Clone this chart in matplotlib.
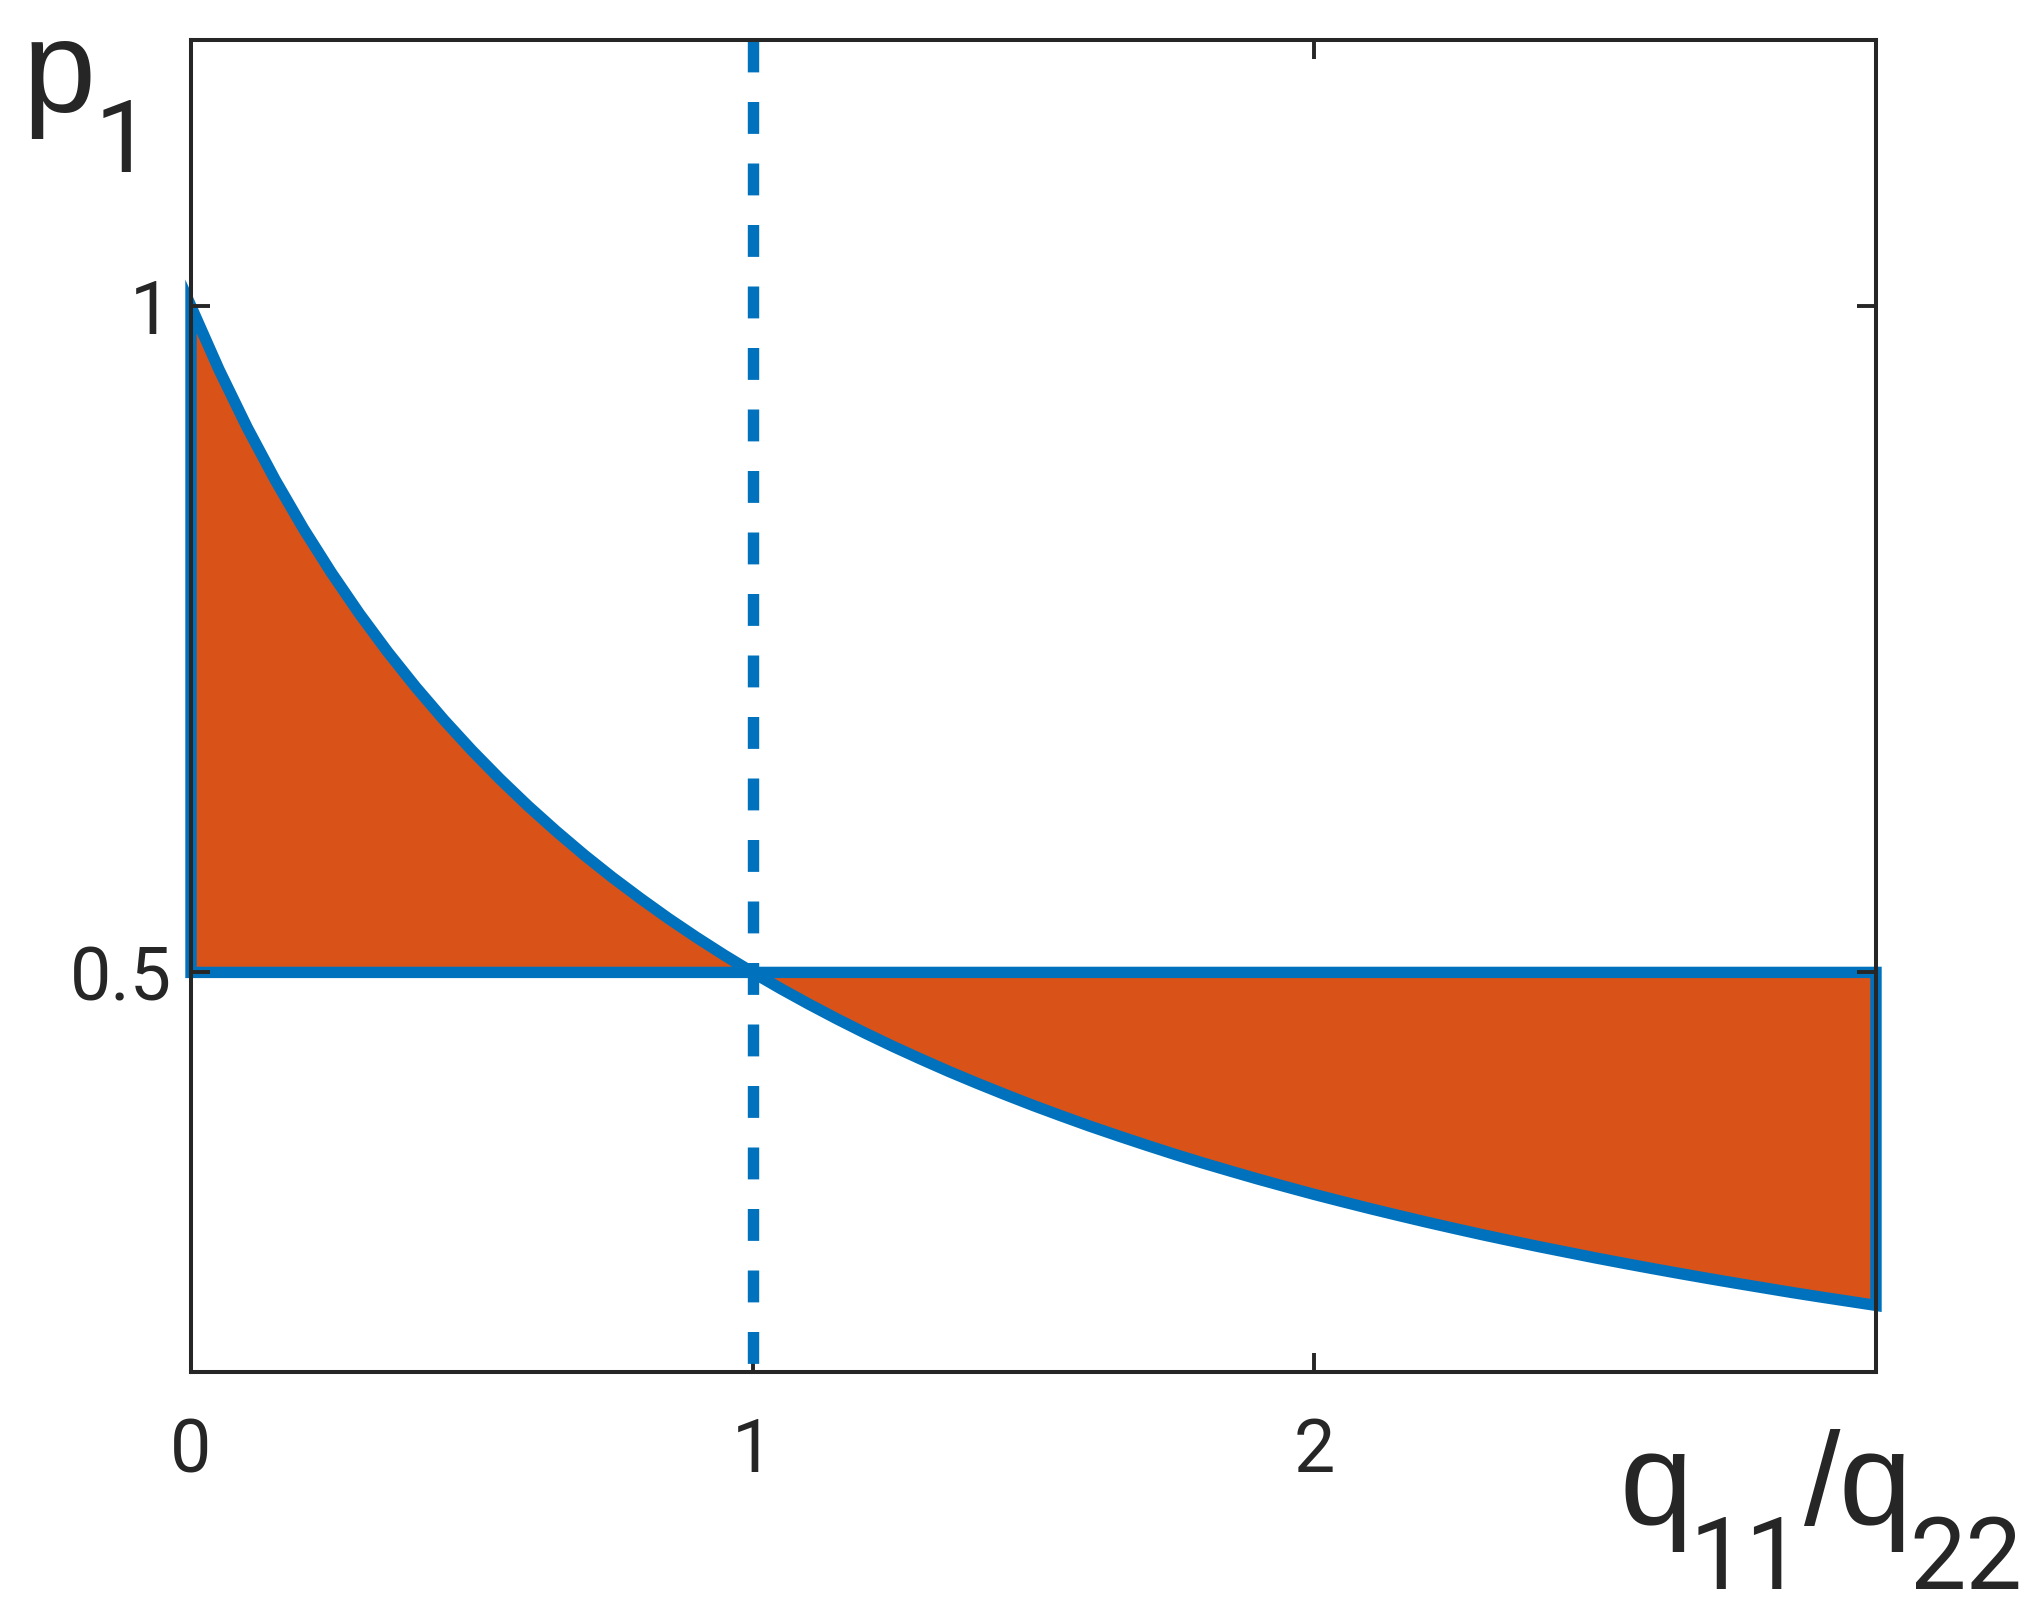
import numpy as np
import matplotlib
matplotlib.use("Agg")
from matplotlib import pyplot as plt

ratio = [0.00, 0.05, 0.10, 0.15, 0.20, 0.25, 0.30, 0.35, 0.40, 0.45,
         0.50, 0.55, 0.60, 0.65, 0.70, 0.75, 0.80, 0.85, 0.90, 0.95,
         1.00, 1.05, 1.10, 1.15, 1.20, 1.25, 1.30, 1.35, 1.40, 1.45,
         1.50, 1.55, 1.60, 1.65, 1.70, 1.75, 1.80, 1.85, 1.90, 1.95,
         2.00, 2.05, 2.10, 2.15, 2.20, 2.25, 2.30, 2.35, 2.40, 2.45,
         2.50, 2.55, 2.60, 2.65, 2.70, 2.75, 2.80, 2.85, 2.90, 2.95, 3.00]
p1 = [1.0000, 0.9524, 0.9091, 0.8696, 0.8333, 0.8000, 0.7692, 0.7407, 0.7143, 0.6897,
      0.6667, 0.6452, 0.6250, 0.6061, 0.5882, 0.5714, 0.5556, 0.5405, 0.5263, 0.5128,
      0.5000, 0.4878, 0.4762, 0.4651, 0.4545, 0.4444, 0.4348, 0.4255, 0.4167, 0.4082,
      0.4000, 0.3922, 0.3846, 0.3774, 0.3704, 0.3636, 0.3571, 0.3509, 0.3448, 0.3390,
      0.3333, 0.3279, 0.3226, 0.3175, 0.3125, 0.3077, 0.3030, 0.2985, 0.2941, 0.2899,
      0.2857, 0.2817, 0.2778, 0.2740, 0.2703, 0.2667, 0.2632, 0.2597, 0.2564, 0.2532, 0.2500]
level = 0.5
split = 1.0
x_ticks = [0, 1, 2]
x_ticklabels = ["0", "1", "2"]
y_ticks = [0.5, 1]
y_ticklabels = ["0.5", "1"]

BLUE = "#0072BD"
ORANGE = "#D95319"
INK = "#262626"
LETTERS = ["Liberation Sans", "DejaVu Sans"]

plt.rcParams["font.family"] = ["Roboto", "DejaVu Sans"]

W, H = 2044, 1619
fig = plt.figure(figsize=(W / 200, H / 200), dpi=200)
ax = fig.add_axes([191 / W, 1 - 1372 / H, (1876 - 191) / W, (1372 - 40) / H])

ratio = np.array(ratio)
p1 = np.array(p1)
lw = 4.1

# left patch (x <= split) and right patch (x >= split), edged in blue
left = ratio <= split
right = ratio >= split
xl = np.concatenate([[0.0], ratio[left], [0.0]])
yl = np.concatenate([[level], p1[left], [level]])
ax.fill(xl, yl, facecolor=ORANGE, edgecolor=BLUE, linewidth=lw,
        joinstyle="miter", clip_on=False, zorder=1)
xr = np.concatenate([ratio[right], [ratio[-1]], [split]])
yr = np.concatenate([p1[right], [level], [level]])
ax.fill(xr, yr, facecolor=ORANGE, edgecolor=BLUE, linewidth=lw,
        joinstyle="miter", clip_on=False, zorder=1)

# dashed divider at q11/q22 = 1
ax.plot([split, split], [1.2, 0.2], color=BLUE, linewidth=lw,
        dashes=(2.8, 2.6), dash_capstyle="butt", zorder=2)

ax.set_xlim(0, 3)
ax.set_ylim(0.2, 1.2)
ax.set_xticks(x_ticks)
ax.set_xticklabels(x_ticklabels)
ax.set_yticks(y_ticks)
ax.set_yticklabels(y_ticklabels)
ax.tick_params(direction="in", length=6.9, width=1.4, color=INK,
               labelcolor=INK, labelsize=26.5, top=True, right=True)
ax.tick_params(axis="x", pad=16)
ax.tick_params(axis="y", pad=7)
for s in ax.spines.values():
    s.set_linewidth(1.45)
    s.set_color(INK)
    s.set_zorder(3)

def put(txt, px, py, size, family=None):
    fig.text(px / W, 1 - py / H, txt, fontsize=size, color=INK,
             ha="left", va="baseline", family=family)

# y label p_1
put("p", 23, 112, 47.2, LETTERS)
put("1", 95, 172, 36.2)
# x label q_11/q_22
put("q", 1619, 1525, 47.2, LETTERS)
put("11", 1690, 1589, 36.2)
put("/", 1804, 1525, 47.2, LETTERS)
put("q", 1838, 1525, 47.2, LETTERS)
put("22", 1909, 1589, 36.2)

fig.savefig("out.png", dpi=200)
